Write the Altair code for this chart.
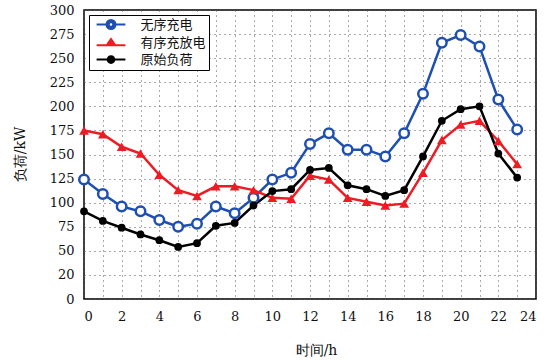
import altair as alt
import pandas as pd

# Hourly load (kW) for the three scenarios
hours = list(range(24))
uncontrolled = [124, 109, 96, 91, 82, 75, 78, 96, 89, 105, 124, 131,
                161, 172, 155, 155, 148, 172, 213, 266, 274, 262, 207, 176]
coordinated = [175, 171, 158, 151, 129, 113, 107, 117, 117, 113, 105, 104,
               128, 124, 105, 101, 97, 99, 131, 165, 181, 185, 164, 140]
baseline = [91, 81, 74, 67, 61, 54, 58, 76, 79, 97, 112, 114,
            134, 136, 118, 114, 107, 113, 148, 185, 197, 200, 151, 126]

series_names = ["无序充电", "有序充放电", "原始负荷"]
series_colors = ["#1f4fb0", "#ec1c24", "#000000"]

# Legend glyphs: a short line segment with the series marker on it
legend_paths = [
    "M-3.2,0L-1,0M1,0L3.2,0M-1,0A1,1,0,1,1,1,0A1,1,0,1,1,-1,0Z"
    "M-0.5,0A0.5,0.5,0,1,0,0.5,0A0.5,0.5,0,1,0,-0.5,0Z",
    "M-3.2,0.5L3.2,0.5M0,-0.9L0.95,0.5L-0.95,0.5Z",
    "M-3.2,0L3.2,0M-0.75,0A0.75,0.75,0,1,1,0.75,0A0.75,0.75,0,1,1,-0.75,0Z",
]

rows = []
for name, vals in zip(series_names, [uncontrolled, coordinated, baseline]):
    for h, v in zip(hours, vals):
        rows.append({"hour": h, "load": v, "series": name})
df = pd.DataFrame(rows)

serif = "DejaVu Serif"
cjk = "Noto Sans CJK SC"

x_enc = alt.X(
    "hour:Q",
    scale=alt.Scale(domain=[0, 24], nice=False, zero=False),
    axis=alt.Axis(
        values=list(range(25)),
        labelExpr="datum.value % 2 == 0 ? datum.label : ''",
        title="时间/h",
        titleX=232, titleY=51, titleBaseline="middle",
        ticks=False, labelPadding=11,
        grid=True, gridDash=[1, 4], gridColor="#555", gridWidth=1,
        domain=False,
        labelFont=serif, labelFontSize=13, labelColor="#111",
        titleFont=serif, titleFontSize=14, titleFontWeight="normal", titleColor="#111",
    ),
)
y_enc = alt.Y(
    "load:Q",
    scale=alt.Scale(domain=[0, 300], nice=False),
    axis=alt.Axis(
        values=list(range(0, 301, 25)),
        labelExpr="datum.value == 25 ? '20' : datum.label",
        title="负荷/kW",
        titleX=-64, titleY=144, titleBaseline="middle", titleAngle=270,
        ticks=False, labelPadding=10,
        grid=True, gridDash=[1, 4], gridColor="#555", gridWidth=1,
        domain=False,
        labelFont=serif, labelFontSize=13, labelColor="#111",
        titleFont=serif, titleFontSize=14, titleFontWeight="normal", titleColor="#111",
    ),
)

base_chart = alt.Chart(df).encode(x=x_enc, y=y_enc)


def only(i):
    return base_chart.transform_filter(alt.datum.series == series_names[i])


# One line per series, each in its own colour
line_layers = [only(i).mark_line(strokeWidth=2.5, color=series_colors[i]) for i in range(3)]

pts_blue = only(0).mark_point(
    shape="circle", filled=False, size=90, strokeWidth=2.5,
    color=series_colors[0], fill="white", fillOpacity=1,
)
pts_red = only(1).mark_point(
    shape="triangle-up", filled=True, size=95, color=series_colors[1], opacity=1
)
pts_black = only(2).mark_point(
    shape="circle", filled=True, size=60, color=series_colors[2], opacity=1
)

legend = alt.Legend(
    title=None, orient="top-left", offset=5,
    strokeColor="black", fillColor="white", padding=3, cornerRadius=0,
    symbolSize=81, symbolStrokeWidth=2, symbolOpacity=1,
    symbolOffset=12.5, labelOffset=23, rowPadding=1.5,
    labelFont=cjk, labelFontSize=13, labelColor="#111",
)

# Invisible layer that only carries the legend entries
legend_layer = base_chart.mark_point(filled=True, opacity=0).encode(
    fill=alt.Fill("series:N", scale=alt.Scale(domain=series_names, range=series_colors),
                  legend=legend, sort=series_names),
    stroke=alt.Stroke("series:N", scale=alt.Scale(domain=series_names, range=series_colors),
                      legend=legend, sort=series_names),
    shape=alt.Shape("series:N", scale=alt.Scale(domain=series_names, range=legend_paths),
                    legend=legend, sort=series_names),
)

chart = (
    alt.layer(*line_layers, pts_blue, pts_red, pts_black, legend_layer)
    .properties(
        width=452, height=289,
        autosize=alt.AutoSizeParams(type="none"),
        padding={"left": 84, "top": 10, "right": 14, "bottom": 61},
        background="white",
    )
    .configure_view(stroke="black", strokeWidth=1.5, fill="white")
)

chart.save("out.html", embed_options={"renderer": "svg", "actions": False})
